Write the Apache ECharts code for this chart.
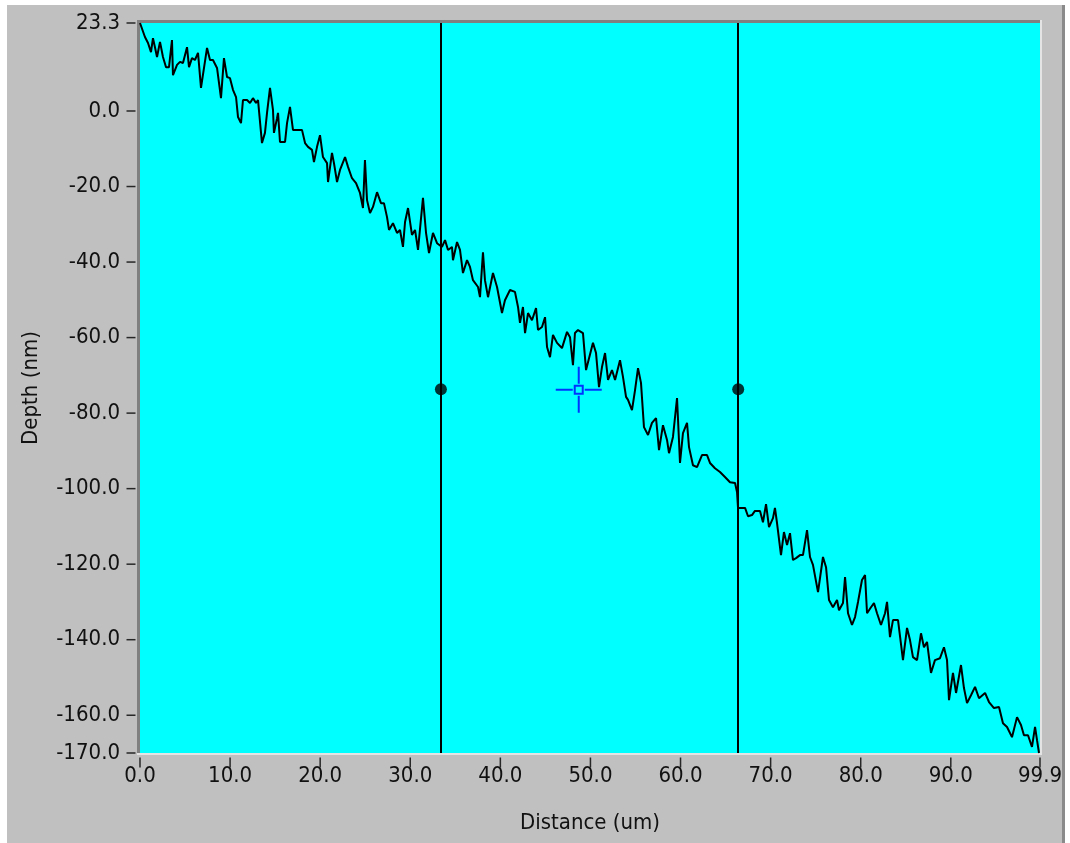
<!DOCTYPE html>
<html>
<head>
<meta charset="utf-8">
<script src="https://cdn.jsdelivr.net/npm/echarts@6/dist/echarts.min.js"></script>
<style>
  html, body { margin: 0; padding: 0; background: #fff; }
  #chart { width: 1070px; height: 843px; }
</style>
</head>
<body>
<div id="chart"></div>
<script>
// profile: distance (um) / depth (nm)
const distance = [0, 0.55, 0.89, 1.22, 1.44, 1.66, 1.89, 2.22, 2.55, 2.89, 3.22, 3.55, 3.66, 4.11, 4.44, 4.77, 5.22, 5.44, 5.77, 6.10,
  6.44, 6.77, 6.99, 7.44, 7.77, 8.10, 8.55, 8.99, 9.32, 9.66, 9.99, 10.32, 10.66, 10.88, 11.21, 11.43, 11.88, 12.21, 12.54, 12.88,
  13.10, 13.54, 13.87, 14.10, 14.43, 14.76, 14.87, 15.21, 15.32, 15.54, 16.10, 16.32, 16.65, 16.98, 17.43, 17.98, 18.32, 18.65, 19.09, 19.31,
  19.65, 19.98, 20.31, 20.76, 20.87, 21.31, 21.53, 21.87, 22.20, 22.76, 23.09, 23.53, 23.98, 24.42, 24.75, 24.97, 25.20, 25.53, 25.86, 26.31,
  26.75, 27.08, 27.42, 27.64, 28.08, 28.53, 28.86, 29.19, 29.42, 29.75, 30.19, 30.53, 30.86, 31.41, 31.75, 32.08, 32.52, 32.97, 33.52, 33.86,
  34.19, 34.63, 34.74, 35.19, 35.52, 35.85, 36.30, 36.63, 36.96, 37.52, 37.74, 38.07, 38.29, 38.63, 39.18, 39.63, 40.18, 40.51, 41.07, 41.62,
  41.96, 42.18, 42.51, 42.74, 43.07, 43.51, 43.96, 44.18, 44.62, 44.96, 45.18, 45.51, 45.84, 46.29, 46.84, 47.40, 47.73, 48.06, 48.28, 48.62,
  49.17, 49.51, 49.73, 50.28, 50.62, 50.95, 51.28, 51.62, 51.95, 52.39, 52.73, 53.28, 53.61, 53.95, 54.17, 54.61, 54.95, 55.28, 55.61, 55.94,
  56.39, 56.83, 57.28, 57.61, 58.05, 58.50, 58.72, 59.16, 59.61, 59.94, 60.27, 60.72, 60.94, 61.38, 61.83, 62.38, 62.94, 63.27, 63.82, 64.38,
  64.93, 65.49, 66.05, 66.27, 66.38, 66.60, 67.16, 67.49, 67.93, 68.26, 68.82, 69.15, 69.49, 69.82, 70.26, 70.48, 70.71, 71.15, 71.48, 71.82,
  72.15, 72.48, 72.82, 73.26, 73.59, 74.04, 74.37, 74.70, 75.26, 75.81, 76.15, 76.48, 76.92, 77.37, 77.59, 78.03, 78.26, 78.59, 79.03, 79.37,
  79.70, 80.14, 80.48, 80.70, 81.14, 81.47, 81.81, 82.25, 82.70, 82.92, 83.25, 83.58, 84.14, 84.69, 85.14, 85.47, 85.80, 86.25, 86.69, 87.02,
  87.36, 87.80, 88.24, 88.80, 89.24, 89.58, 89.80, 90.24, 90.58, 91.13, 91.46, 91.80, 92.24, 92.69, 93.13, 93.80, 94.24, 94.79, 95.35, 95.79,
  96.24, 96.79, 97.35, 97.79, 98.12, 98.57, 99.01, 99.35, 99.57, 99.79]

const depth = [23.3, 19.6, 18.0, 15.6, 19.3, 16.9, 14.3, 18.3, 14.3, 11.6, 11.6, 18.8, 9.5, 12.2, 13.0, 12.7, 16.9, 11.6, 14.0, 13.5,
  15.4, 6.1, 5.6, 16.7, 13.5, 13.5, 11.4, 3.4, 14.0, 9.0, 8.7, 5.6, 3.7, -1.6, -3.2, 2.9, 2.9, 2.1, 3.4, 2.1,
  2.9, -8.5, -5.8, -0.5, 6.1, 0.3, -5.8, -1.9, -0.5, -8.2, -8.2, -3.2, 1.1, -5.0, -5.0, -5.0, -8.5, -9.5, -10.3, -13.5,
  -9.5, -6.4, -12.2, -13.8, -18.8, -11.1, -13.8, -18.8, -15.6, -12.2, -14.8, -17.8, -19.1, -21.7, -25.7, -13.0, -23.6, -27.0, -25.4, -21.5,
  -24.4, -24.4, -28.1, -31.5, -29.7, -32.3, -31.5, -36.0, -29.4, -25.7, -32.8, -31.5, -36.8, -23.0, -32.3, -37.6, -32.3, -35.0, -36.0, -34.2,
  -36.8, -36.0, -39.5, -34.7, -36.8, -42.9, -39.5, -41.3, -44.8, -46.6, -49.3, -37.4, -44.8, -49.3, -42.9, -46.6, -53.5, -50.1, -47.4, -47.9,
  -51.9, -56.1, -51.9, -58.8, -53.5, -55.4, -52.2, -58.0, -57.2, -54.6, -62.5, -65.2, -59.3, -61.4, -62.8, -58.5, -59.9, -67.3, -58.8, -58.0,
  -58.8, -68.6, -68.6, -61.4, -64.1, -73.1, -67.8, -64.1, -71.2, -68.6, -71.2, -66.0, -70.4, -75.7, -76.5, -79.2, -73.9, -68.1, -72.0, -83.7,
  -85.8, -82.6, -81.3, -89.8, -83.2, -87.1, -90.6, -86.3, -76.0, -93.2, -85.3, -82.6, -89.0, -93.8, -94.3, -91.1, -91.1, -93.2, -94.6, -95.6,
  -96.9, -98.3, -98.5, -100.9, -105.1, -105.1, -105.1, -107.3, -107.0, -105.9, -105.9, -108.9, -104.1, -110.2, -107.8, -105.1, -109.1, -117.6, -111.5, -114.9,
  -111.8, -118.9, -118.4, -117.6, -117.6, -111.0, -118.1, -120.2, -127.4, -118.1, -120.8, -129.5, -131.4, -129.5, -132.2, -130.3, -123.4, -133.0, -136.1, -134.0,
  -130.0, -124.2, -122.9, -133.0, -131.4, -130.3, -133.0, -136.1, -133.0, -130.0, -139.3, -134.8, -134.8, -145.4, -136.9, -140.1, -144.6, -145.4, -138.3, -142.0,
  -140.6, -148.8, -145.4, -144.9, -142.0, -145.4, -156.0, -148.8, -154.1, -146.7, -152.8, -156.8, -154.7, -152.5, -155.5, -154.1, -156.5, -158.1, -157.8, -162.1,
  -163.1, -165.8, -160.5, -162.6, -165.3, -165.3, -168.4, -163.1, -166.6, -170.0]

const xTicks = [0, 10, 20, 30, 40, 50, 60, 70, 80, 90, 99.9]
const yTicks = [23.3, 0, -20, -40, -60, -80, -100, -120, -140, -160, -170]

// two cursors and the crosshair marker
const cursorX = [33.4, 66.4]
const cursorY = -73.7
const crossHair = [48.7, -73.8]

const chart = echarts.init(document.getElementById('chart'))

const font = 'DejaVu Sans Condensed'
const fmt = v => Number(v).toFixed(1)

// crosshair glyph: four arms + hollow square, all as filled bars
const crossPath = 'path://M0,22h17v2h-17z M29,22h17v2h-17z M22,0h2v17h-2z M22,29h2v17h-2z ' +
  'M18,18h10v2h-10z M18,26h10v2h-10z M18,18h2v10h-2z M26,18h2v10h-2z'

const option = {
  backgroundColor: '#c0c0c0',
  animation: false,
  textStyle: { fontFamily: font },
  grid: {
    left: 140,
    right: 30,
    top: 23,
    bottom: 90,
    show: true,
    backgroundColor: '#00ffff',
    borderWidth: 0
  },
  xAxis: {
    type: 'value',
    min: 0,
    max: 99.9,
    offset: 3,
    name: 'Distance (um)',
    nameLocation: 'middle',
    nameGap: 56,
    nameTextStyle: { fontFamily: font, fontSize: 22, color: '#111' },
    axisLine: { show: false, onZero: false },
    axisTick: { show: false },
    axisLabel: {
      customValues: xTicks,
      formatter: fmt,
      margin: 9,
      fontFamily: font,
      fontSize: 22,
      color: '#111'
    },
    splitLine: { show: false }
  },
  yAxis: {
    type: 'value',
    min: -170,
    max: 23.3,
    offset: 4,
    name: 'Depth (nm)',
    nameLocation: 'middle',
    nameRotate: 90,
    nameGap: 94,
    nameTextStyle: { fontFamily: font, fontSize: 22, color: '#111' },
    axisLine: { show: false, onZero: false },
    axisTick: { show: false },
    axisLabel: {
      customValues: yTicks,
      formatter: fmt,
      margin: 16,
      fontFamily: font,
      fontSize: 22,
      color: '#111'
    },
    splitLine: { show: false }
  },
  graphic: [
    // window frame
    { type: 'rect', shape: { x: 0, y: 0, width: 1070, height: 5 }, style: { fill: '#fff' } },
    { type: 'rect', shape: { x: 0, y: 0, width: 7, height: 843 }, style: { fill: '#fff' } },
    { type: 'rect', shape: { x: 1065, y: 0, width: 5, height: 843 }, style: { fill: '#fff' } },
    { type: 'rect', shape: { x: 1062, y: 5, width: 3, height: 838 }, style: { fill: '#8a8a8a' } },
    // sunken plot border
    { type: 'rect', shape: { x: 137, y: 20, width: 3, height: 735 }, style: { fill: '#808080' } },
    { type: 'rect', shape: { x: 137, y: 20, width: 905, height: 3 }, style: { fill: '#808080' } },
    { type: 'rect', shape: { x: 1040, y: 20, width: 2, height: 735 }, style: { fill: '#e4e4e4' } },
    { type: 'rect', shape: { x: 137, y: 753, width: 905, height: 2 }, style: { fill: '#e4e4e4' } }
  ],
  series: [
    {
      type: 'line',
      data: distance.map((d, i) => [d, depth[i]]),
      showSymbol: false,
      symbol: 'none',
      lineStyle: { color: '#000', width: 2 },
      markLine: {
        silent: true,
        symbol: 'none',
        label: { show: false },
        lineStyle: { color: '#000', width: 2, type: 'solid' },
        data: cursorX.map(x => ({ xAxis: x }))
      },
      z: 3
    },
    {
      type: 'scatter',
      data: cursorX.map(x => [x, cursorY]),
      symbol: 'circle',
      symbolSize: 12,
      itemStyle: { color: '#000' },
      z: 4
    },
    {
      type: 'scatter',
      data: [crossHair],
      symbol: crossPath,
      symbolSize: 46,
      itemStyle: { color: '#0000ff' },
      z: 5
    },
    // tick marks, placed by the axes' own scales just outside the plot
    {
      type: 'scatter',
      silent: true,
      clip: false,
      data: xTicks.map(v => [v, -170]),
      symbol: 'rect',
      symbolSize: [1.5, 10],
      symbolOffset: [0, 9.5],
      itemStyle: { color: '#000' },
      z: 6
    },
    {
      type: 'scatter',
      silent: true,
      clip: false,
      data: yTicks.map(v => [0, v]),
      symbol: 'rect',
      symbolSize: [9, 1.5],
      symbolOffset: [-9, 0],
      itemStyle: { color: '#000' },
      z: 6
    }
  ]
}

chart.setOption(option)
</script>
</body>
</html>
